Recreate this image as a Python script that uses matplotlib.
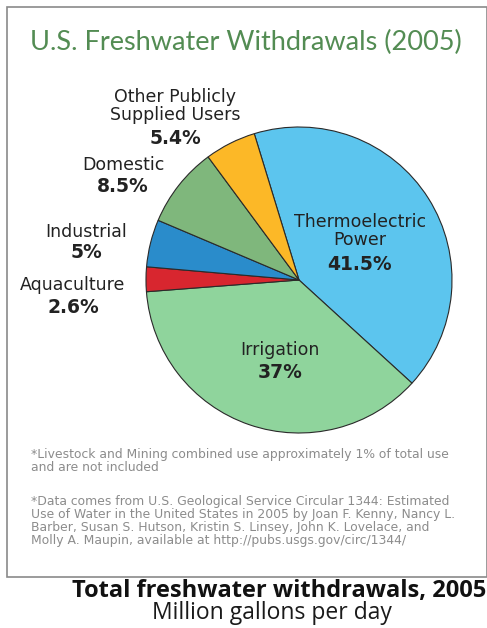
import matplotlib.pyplot as plt
from matplotlib.patches import Rectangle

W, H = 487, 628

labels = ["Thermoelectric\nPower", "Irrigation", "Aquaculture", "Industrial",
          "Domestic", "Other Publicly\nSupplied Users"]
shares = [41.5, 37, 2.6, 5, 8.5, 5.4]
pct_text = ["41.5%", "37%", "2.6%", "5%", "8.5%", "5.4%"]
colors = ["#5cc5ee", "#8fd49c", "#d8262f", "#2a8ccb", "#7fb77c", "#fcb827"]

fig = plt.figure(figsize=(W / 100, H / 100), dpi=100)
fig.patch.set_facecolor("white")


def px(x, y):
    return x / W, 1 - y / H


# frame around the chart
fig.patches.append(Rectangle(px(7, 577), (W - 7) / W, 570 / H, transform=fig.transFigure,
                             fill=False, edgecolor="#8a8a8a", linewidth=1.2))

fig.text(*px(246, 42), "U.S. Freshwater Withdrawals (2005)", ha="center", va="center",
         fontsize=19.5, family="Lato", color="#538c53")

# pie
cx, cy, r = 299, 280, 153
ax = fig.add_axes([(cx - r) / W, (H - cy - r) / H, 2 * r / W, 2 * r / H])
ax.pie(shares, colors=colors, startangle=107, counterclock=False,
       wedgeprops=dict(edgecolor="#2a2a2a", linewidth=0.8))
ax.set_xlim(-1, 1)
ax.set_ylim(-1, 1)
ax.axis("off")

# label positions (pixels): name block centre then percent line
label_pos = [(360, 231, 264), (280, 350, 373), (73, 285, 307), (86, 232, 253),
             (123, 165, 186), (175, 106, 138)]
for lab, pct, (x, y, yp) in zip(labels, pct_text, label_pos):
    fig.text(*px(x, y), lab, ha="center", va="center", fontsize=12.5, color="#222222",
             linespacing=1.0)
    fig.text(*px(x, yp), pct, ha="center", va="center", fontsize=13.5,
             fontweight="bold", color="#222222")

note1 = ("*Livestock and Mining combined use approximately 1% of total use\n"
         "and are not included")
note2 = ("*Data comes from U.S. Geological Service Circular 1344: Estimated\n"
         "Use of Water in the United States in 2005 by Joan F. Kenny, Nancy L.\n"
         "Barber, Susan S. Hutson, Kristin S. Linsey, John K. Lovelace, and\n"
         "Molly A. Maupin, available at http://pubs.usgs.gov/circ/1344/")
fig.text(*px(31, 448), note1, ha="left", va="top", fontsize=8.9, color="#8c8c8c",
         linespacing=1.0)
fig.text(*px(31, 495), note2, ha="left", va="top", fontsize=8.9, color="#8c8c8c",
         linespacing=1.0)

fig.text(*px(486, 591), "Total freshwater withdrawals, 2005", ha="right", va="center",
         fontsize=17, family="Open Sans", fontweight="bold", color="#111111")
fig.text(*px(272, 613), "Million gallons per day", ha="center", va="center",
         fontsize=16.5, family="Open Sans", color="#1a1a1a")

fig.savefig("out.png", dpi=100, facecolor="white")
